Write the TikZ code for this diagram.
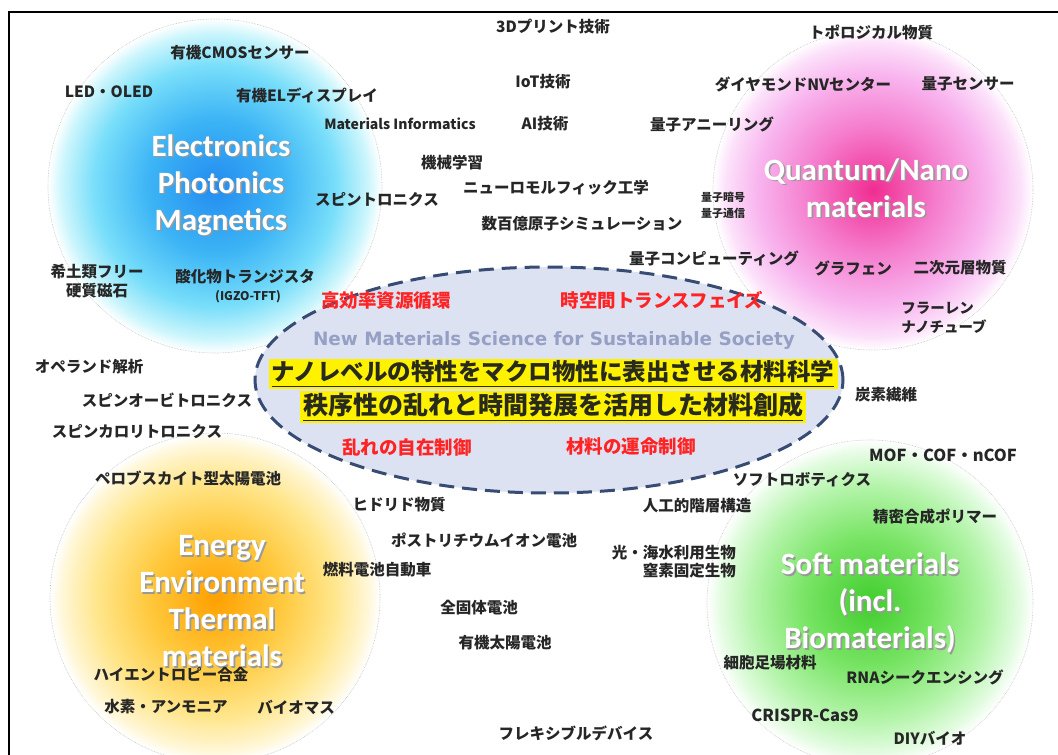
\documentclass[tikz,border=0pt]{standalone}
\usepackage{fontspec}
\usepackage{graphicx}
\newfontfamily\jp{Noto Sans CJK JP}
\newfontfamily\ttlfont{Carlito}
\newfontfamily\nmfont{DejaVu Sans}
\definecolor{bc1}{RGB}{35,140,240}
\definecolor{bc2}{RGB}{60,180,245}
\definecolor{bc3}{RGB}{120,222,250}
\definecolor{bc4}{RGB}{205,246,252}
\definecolor{pc1}{RGB}{240,45,145}
\definecolor{pc2}{RGB}{245,125,205}
\definecolor{pc3}{RGB}{248,180,238}
\definecolor{pc4}{RGB}{252,225,250}
\definecolor{oc1}{RGB}{255,160,0}
\definecolor{oc2}{RGB}{255,200,60}
\definecolor{oc3}{RGB}{255,230,140}
\definecolor{oc4}{RGB}{255,246,212}
\definecolor{gc1}{RGB}{65,205,45}
\definecolor{gc2}{RGB}{120,228,100}
\definecolor{gc3}{RGB}{180,244,170}
\definecolor{gc4}{RGB}{228,252,226}
\definecolor{ellfill}{RGB}{220,226,242}
\definecolor{elldraw}{RGB}{55,75,115}
\definecolor{kwredc}{RGB}{255,35,35}
\definecolor{nmcol}{RGB}{150,160,196}
\definecolor{hltext}{RGB}{40,42,30}
\pgfdeclareradialshading{blueball}{\pgfpoint{0bp}{0bp}}{color(0bp)=(bc1); color(10bp)=(bc2); color(18bp)=(bc3); color(23bp)=(bc4); color(25bp)=(white); color(50bp)=(white)}
\pgfdeclareradialshading{pinkball}{\pgfpoint{0bp}{0bp}}{color(0bp)=(pc1); color(10bp)=(pc2); color(18bp)=(pc3); color(23bp)=(pc4); color(25bp)=(white); color(50bp)=(white)}
\pgfdeclareradialshading{orangeball}{\pgfpoint{0bp}{0bp}}{color(0bp)=(oc1); color(10bp)=(oc2); color(18bp)=(oc3); color(23bp)=(oc4); color(25bp)=(white); color(50bp)=(white)}
\pgfdeclareradialshading{greenball}{\pgfpoint{0bp}{0bp}}{color(0bp)=(gc1); color(10bp)=(gc2); color(18bp)=(gc3); color(23bp)=(gc4); color(25bp)=(white); color(50bp)=(white)}
\tikzset{
  lbl/.style={font=\jp\bfseries\fontsize{15.5}{18}\selectfont, text=black!85, inner sep=0pt, align=center},
  ttl/.style={font=\ttlfont\bfseries\fontsize{31}{37}\selectfont, text=white, align=center, inner sep=0pt},
  ttlsh/.style={ttl, text=black!40},
  kwred/.style={font=\jp\bfseries\fontsize{18.5}{20}\selectfont, text=kwredc, inner sep=0pt},
  hl/.style={fill=yellow, inner xsep=3pt, inner ysep=1.5pt, text=hltext, font=\jp\bfseries},
  ballrim/.style={draw=black!25, densely dotted, line width=0.6pt}
}
\begin{document}
\begin{tikzpicture}[x=1pt,y=-1pt]
\useasboundingbox (0,0) rectangle (1058,755);
\fill[white] (0,0) rectangle (1058,755);
% balls
\shade[shading=blueball] (215,186) circle [radius=167pt];
\shade[shading=pinkball] (873,190) circle [radius=160pt];
\shade[shading=orangeball] (215,598) circle [radius=165pt];
\shade[shading=greenball] (870,603) circle [radius=163pt];
\draw[ballrim] (215,186) circle [radius=167pt];
\draw[ballrim] (873,190) circle [radius=160pt];
\draw[ballrim] (215,598) circle [radius=165pt];
\draw[ballrim] (870,603) circle [radius=163pt];
% frame
\draw[line width=2pt] (9,12) rectangle (1075,775);
% central ellipse
\draw[fill=ellfill, draw=elldraw, line width=3pt, dash pattern=on 15pt off 8pt] (549,380) ellipse [x radius=294pt, y radius=113pt];
% ball titles
\node[ttlsh, xshift=1.6pt, yshift=-1.6pt] (t1s) at (221,185) {Electronics\\Photonics\\Magnetics};
\node[ttl] (t1) at (221,185) {Electronics\\Photonics\\Magnetics};
\node[ttlsh, xshift=1.6pt, yshift=-1.6pt] (t2s) at (866,188) {Quantum/Nano\\materials};
\node[ttl] (t2) at (866,188) {Quantum/Nano\\materials};
\node[ttlsh, xshift=1.6pt, yshift=-1.6pt] (t3s) at (222,601) {Energy\\Environment\\Thermal\\materials};
\node[ttl] (t3) at (222,601) {Energy\\Environment\\Thermal\\materials};
\node[ttlsh, xshift=1.6pt, yshift=-1.6pt] (t4s) at (870,603) {Soft materials\\(incl.\\Biomaterials)};
\node[ttl] (t4) at (870,603) {Soft materials\\(incl.\\Biomaterials)};
% ellipse texts
\node[kwred] (k1) at (386,300) {高効率資源循環};
\node[kwred] (k2) at (662,300) {時空間トランスフェイズ};
\node[kwred] (k3) at (407,447) {乱れの自在制御};
\node[kwred] (k4) at (631,447) {材料の運命制御};
\node[font=\nmfont\bfseries\fontsize{18}{20}\selectfont, text=nmcol, inner sep=0pt] (nm) at (554,340) {\resizebox{482pt}{!}{New Materials Science for Sustainable Society}};
\node[hl] (h1) at (553,374) {\resizebox{563pt}{!}{\underline{ナノレベルの特性をマクロ物性に表出させる材料科学}}};
\node[hl] (h2) at (553,407) {\resizebox{500pt}{!}{\underline{秩序性の乱れと時間発展を活用した材料創成}}};
% labels: top / blue
\node[lbl] (a1) at (240,53) {有機CMOSセンサー};
\node[lbl] (a2) at (109,92) {LED・OLED};
\node[lbl] (a3) at (307,95) {有機ELディスプレイ};
\node[lbl, font=\jp\bfseries\fontsize{14}{16}\selectfont] (a4) at (400,124) {Materials Informatics};
\node[lbl] (a5) at (452,163) {機械学習};
\node[lbl] (a6) at (377,200) {スピントロニクス};
\node[lbl] (a7) at (556,188) {ニューロモルフィック工学};
\node[lbl] (a8) at (582,224) {数百億原子シミュレーション};
\node[lbl] (a9) at (553,27) {3Dプリント技術};
\node[lbl] (a10) at (543,82) {IoT技術};
\node[lbl] (a11) at (545,124) {AI技術};
\node[lbl] (a12) at (712,124) {量子アニーリング};
\node[lbl] (a13) at (871,32) {トポロジカル物質};
\node[lbl] (a14) at (803,84) {ダイヤモンドNVセンター};
\node[lbl] (a15) at (968,84) {量子センサー};
\node[lbl, font=\jp\bfseries\fontsize{11}{16}\selectfont] (a16) at (723,205) {量子暗号\\量子通信};
\node[lbl] (a17) at (714,258) {量子コンピューティング};
\node[lbl] (a18) at (853,268) {グラフェン};
\node[lbl] (a19) at (960,268) {二次元層物質};
\node[lbl, align=left, font=\jp\bfseries\fontsize{14.5}{19}\selectfont] (a20) at (944,318) {フラーレン\\ナノチューブ};
\node[lbl, font=\jp\bfseries\fontsize{15.5}{19}\selectfont] (a21) at (97,281) {希土類フリー\\硬質磁石};
\node[lbl] (a22) at (245,277) {酸化物トランジスタ};
\node[lbl, font=\jp\bfseries\fontsize{12}{14}\selectfont] (a23) at (248,297) {(IGZO-TFT)};
% left / middle
\node[lbl] (b1) at (89,367) {オペランド解析};
\node[lbl] (b2) at (167,400) {スピンオービトロニクス};
\node[lbl] (b3) at (137,432) {スピンカロリトロニクス};
\node[lbl] (b4) at (188,478) {ペロブスカイト型太陽電池};
\node[lbl] (b5) at (399,505) {ヒドリド物質};
\node[lbl] (b6) at (484,540) {ポストリチウムイオン電池};
\node[lbl] (b7) at (377,570) {燃料電池自動車};
\node[lbl] (b8) at (479,608) {全固体電池};
\node[lbl] (b9) at (505,643) {有機太陽電池};
\node[lbl] (b10) at (171,675) {ハイエントロピー合金};
\node[lbl] (b11) at (166,707) {水素・アンモニア};
\node[lbl] (b12) at (296,707) {バイオマス};
\node[lbl] (b13) at (576,733) {フレキシブルデバイス};
% right / green
\node[lbl] (c1) at (697,506) {人工的階層構造};
\node[lbl, align=right, anchor=east] (c2) at (736,562) {光・海水利用生物\\窒素固定生物};
\node[lbl] (c3) at (886,395) {炭素繊維};
\node[lbl, font=\jp\bfseries\fontsize{16.5}{18}\selectfont] (c4) at (943,455) {MOF・COF・nCOF};
\node[lbl] (c5) at (802,480) {ソフトロボティクス};
\node[lbl] (c6) at (935,517) {精密合成ポリマー};
\node[lbl] (c7) at (770,663) {細胞足場材料};
\node[lbl] (c8) at (925,677) {RNAシークエンシング};
\node[lbl, font=\jp\bfseries\fontsize{16.5}{18}\selectfont] (c9) at (805,715) {CRISPR-Cas9};
\node[lbl] (c10) at (930,738) {DIYバイオ};
\end{tikzpicture}
\end{document}
